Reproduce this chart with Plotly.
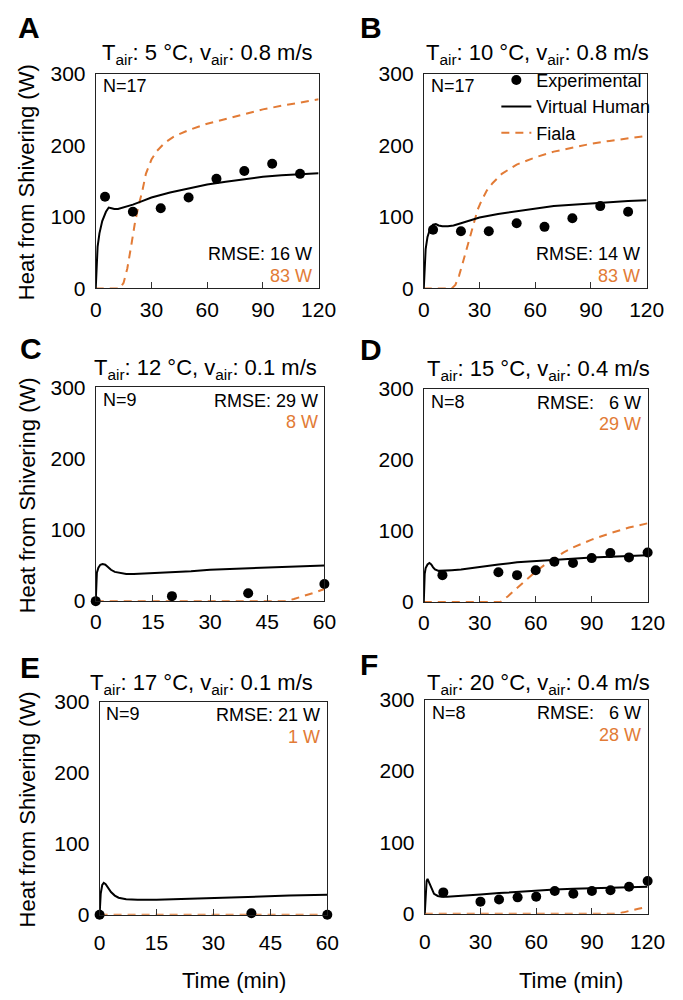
import plotly.graph_objects as go

W, H = 683, 1000
FONT = "Liberation Sans, Arial, sans-serif"
ORANGE = "#E27B36"

# ---------------- data ----------------
# Panel A: Tair 5 C, vair 0.8 m/s
a_exp_t = [5, 20, 35, 50, 65, 80, 95, 110]
a_exp_y = [128, 107, 112, 127, 153, 164, 174, 160]
a_vh_t = [0, 0.5, 1, 2, 3.5, 5.5, 7, 8.5, 10, 12, 15, 20, 25, 30, 40, 50, 60, 70, 80, 90, 100, 110, 120]
a_vh_y = [0, 40, 58, 77, 94, 107, 113, 112, 111, 111, 113, 117, 122, 127, 134, 140, 145, 149, 153, 156, 158, 160, 161]
a_fi_t = [0, 13, 15, 17, 19, 21, 23, 25, 27, 30, 33, 37, 42, 50, 60, 70, 80, 90, 100, 110, 120]
a_fi_y = [0, 0, 8, 28, 58, 90, 115, 135, 160, 180, 192, 203, 212, 221, 230, 237, 244, 250, 255, 259, 264]

# Panel B: Tair 10 C, vair 0.8 m/s
b_exp_t = [5, 20, 35, 50, 65, 80, 95, 110]
b_exp_y = [82, 80, 80, 91, 86, 98, 115, 107]
b_vh_t = [0, 0.5, 1, 2, 3.5, 5, 6.5, 8, 10, 13, 16, 20, 25, 30, 40, 50, 60, 70, 80, 90, 100, 110, 120]
b_vh_y = [0, 40, 55, 72, 84, 89, 90, 88, 87, 87, 88, 91, 95, 99, 104, 108, 112, 115, 117, 119, 120, 122, 123]
b_fi_t = [0, 15, 17, 19, 21, 23, 25, 27, 29, 31, 34, 37, 42, 50, 60, 70, 80, 90, 100, 110, 120]
b_fi_y = [0, 0, 5, 18, 36, 55, 75, 94, 110, 122, 137, 147, 160, 173, 183, 191, 197, 202, 206, 210, 213]

# Panel C: Tair 12 C, vair 0.1 m/s
c_exp_t = [0, 20, 40, 60]
c_exp_y = [0, 7, 11, 24]
c_vh_t = [0, 0.3, 0.7, 1.2, 1.8, 2.5, 3.2, 4, 5, 6.5, 8, 10, 15, 20, 25, 30, 35, 40, 45, 50, 55, 60]
c_vh_y = [0, 40, 47, 51, 52, 51, 48, 44, 41, 39, 38, 38, 39, 41, 42, 44, 45, 46, 47, 48, 49, 50]
c_fi_t = [0, 50, 52, 54, 56, 58, 60]
c_fi_y = [0, 0, 3, 6, 9, 13, 17]

# Panel D: Tair 15 C, vair 0.4 m/s
d_exp_t = [10, 40, 50, 60, 70, 80, 90, 100, 110, 120]
d_exp_y = [38, 42, 38, 45, 57, 55, 62, 69, 63, 70]
d_vh_t = [0, 0.5, 1, 2, 3, 4, 5, 6, 8, 10, 15, 20, 30, 40, 50, 60, 70, 80, 90, 100, 110, 120]
d_vh_y = [0, 40, 48, 53, 55, 53, 49, 46, 44, 44, 45, 46, 50, 53, 56, 58, 60, 62, 63, 64, 65, 66]
d_fi_t = [0, 41, 45, 50, 55, 60, 65, 70, 75, 80, 90, 100, 110, 120]
d_fi_y = [0, 0, 8, 20, 32, 43, 53, 62, 70, 77, 88, 97, 105, 111]

# Panel E: Tair 17 C, vair 0.1 m/s
e_exp_t = [0, 40, 60]
e_exp_y = [0, 2, 0]
e_vh_t = [0, 0.3, 0.7, 1.1, 1.6, 2.2, 3, 4, 5, 7, 10, 15, 20, 30, 40, 50, 60]
e_vh_y = [0, 30, 42, 45, 43, 38, 32, 27, 24, 22, 21, 21, 22, 23, 25, 27, 28]
e_fi_t = [0, 60]
e_fi_y = [0, 0]

# Panel F: Tair 20 C, vair 0.4 m/s
f_exp_t = [10, 30, 40, 50, 60, 70, 80, 90, 100, 110, 120]
f_exp_y = [30, 17, 20, 23, 24, 32, 28, 32, 33, 38, 46]
f_vh_t = [0, 0.5, 1, 1.5, 2, 3, 4, 5, 7, 9, 12, 20, 30, 40, 50, 60, 70, 80, 90, 100, 110, 120]
f_vh_y = [0, 35, 46, 49, 46, 38, 32, 28, 25, 24, 24, 25, 27, 29, 31, 33, 34, 35, 36, 37, 38, 38]
f_fi_t = [0, 103, 107, 111, 115, 120]
f_fi_y = [0, 0, 2, 5, 7, 10]

letters = ["A", "B", "C", "D", "E", "F"]
t_air = ["5", "10", "12", "15", "17", "20"]
v_air = ["0.8", "0.8", "0.1", "0.4", "0.1", "0.4"]
n_labels = ["N=17", "N=17", "N=9", "N=8", "N=9", "N=8"]
rmse_vh = ["RMSE: 16 W", "RMSE: 14 W", "RMSE: 29 W", "RMSE:   6 W", "RMSE: 21 W", "RMSE:   6 W"]
rmse_fi = ["83 W", "83 W", "8 W", "29 W", "1 W", "28 W"]
x_max = [120, 120, 60, 120, 60, 120]
x_ticks_long = [0, 30, 60, 90, 120]
x_ticks_short = [0, 15, 30, 45, 60]
y_ticks = [0, 100, 200, 300]

exp_t = [a_exp_t, b_exp_t, c_exp_t, d_exp_t, e_exp_t, f_exp_t]
exp_y = [a_exp_y, b_exp_y, c_exp_y, d_exp_y, e_exp_y, f_exp_y]
vh_t = [a_vh_t, b_vh_t, c_vh_t, d_vh_t, e_vh_t, f_vh_t]
vh_y = [a_vh_y, b_vh_y, c_vh_y, d_vh_y, e_vh_y, f_vh_y]
fi_t = [a_fi_t, b_fi_t, c_fi_t, d_fi_t, e_fi_t, f_fi_t]
fi_y = [a_fi_y, b_fi_y, c_fi_y, d_fi_y, e_fi_y, f_fi_y]

# ---------------- layout geometry (pixels) ----------------
# plot boxes: (left, right, top, bottom)
boxes = [
    (93, 324, 63, 283),
    (433, 664, 63, 283),
    (93, 330, 384, 603),
    (433, 665, 386, 604),
    (97, 333, 706, 924),
    (434, 665, 704, 923),
]
letter_pos = [(10, 16), (365, 16), (12, 344), (365, 345), (12, 671), (365, 668)]
title_pos = [(209, 43), (551, 43), (207, 365), (552, 366), (203, 688), (552, 688)]
x_standoff = [2, 2, 2, 2, 9, 9]


def px(x):
    return x / W


def py(y):
    return 1 - y / H


fig = go.Figure()
annotations = []
layout_axes = {}

for i in range(6):
    L, R, T, B = boxes[i]
    xa = "x" if i == 0 else f"x{i+1}"
    ya = "y" if i == 0 else f"y{i+1}"
    xkey = "xaxis" if i == 0 else f"xaxis{i+1}"
    ykey = "yaxis" if i == 0 else f"yaxis{i+1}"
    show = i == 1

    fig.add_trace(go.Scatter(
        x=fi_t[i], y=fi_y[i], mode="lines", name="Fiala",
        line=dict(color=ORANGE, width=2, dash="8px,6px"),
        xaxis=xa, yaxis=ya, showlegend=show, legendrank=3, cliponaxis=False))
    fig.add_trace(go.Scatter(
        x=vh_t[i], y=vh_y[i], mode="lines", name="Virtual Human",
        line=dict(color="black", width=2),
        xaxis=xa, yaxis=ya, showlegend=show, legendrank=2, cliponaxis=False))
    fig.add_trace(go.Scatter(
        x=exp_t[i], y=exp_y[i], mode="markers", name="Experimental",
        marker=dict(color="black", size=10),
        xaxis=xa, yaxis=ya, showlegend=show, legendrank=1, cliponaxis=False))

    ticks = x_ticks_long if x_max[i] == 120 else x_ticks_short
    layout_axes[xkey] = dict(
        domain=[px(L), px(R)], anchor=ya, range=[0, x_max[i]],
        tickvals=ticks, ticktext=[str(t) for t in ticks],
        ticks="inside", ticklen=6, tickcolor="#333", tickwidth=1,
        showline=True, mirror=True, linecolor="#222", linewidth=1,
        showgrid=False, zeroline=False,
        tickfont=dict(size=21, color="black", family=FONT),
        ticklabelstandoff=x_standoff[i],
    )
    layout_axes[ykey] = dict(
        domain=[py(B), py(T)], anchor=xa, range=[0, 300],
        tickvals=y_ticks, ticktext=[str(t) for t in y_ticks],
        ticks="", showline=True, mirror=True, linecolor="#222", linewidth=1,
        showgrid=False, zeroline=False,
        tickfont=dict(size=21, color="black", family=FONT),
        ticklabelstandoff=5,
    )

    # panel letter
    lx, ly = letter_pos[i]
    annotations.append(dict(
        text=f"<b>{letters[i]}</b>", x=px(lx), y=py(ly), xref="paper", yref="paper",
        xanchor="left", yanchor="middle", showarrow=False,
        font=dict(size=30, color="black", family=FONT)))
    # title
    tx, ty = title_pos[i]
    annotations.append(dict(
        text=f"T<sub>air</sub>: {t_air[i]} °C, v<sub>air</sub>: {v_air[i]} m/s",
        x=px(tx), y=py(ty), xref="paper", yref="paper",
        xanchor="center", yanchor="middle", showarrow=False,
        font=dict(size=22, color="black", family=FONT)))
    # N label
    annotations.append(dict(
        text=n_labels[i], x=px(L + 5), y=py(T + 13), xref="paper", yref="paper",
        xanchor="left", yanchor="middle", showarrow=False,
        font=dict(size=18, color="black", family=FONT)))
    # RMSE labels
    if i < 2:
        r1, r2 = B - 35, B - 13
    else:
        r1, r2 = T + 14, T + 36
    annotations.append(dict(
        text=rmse_vh[i].replace("  ", "&nbsp;&nbsp;"), x=px(R - 5), y=py(r1), xref="paper", yref="paper",
        xanchor="right", yanchor="middle", showarrow=False,
        font=dict(size=18, color="black", family=FONT)))
    annotations.append(dict(
        text=rmse_fi[i], x=px(R - 5), y=py(r2), xref="paper", yref="paper",
        xanchor="right", yanchor="middle", showarrow=False,
        font=dict(size=18, color=ORANGE, family=FONT)))
    # y-axis title on left column
    if i % 2 == 0:
        annotations.append(dict(
            text="Heat from Shivering (W)", x=px(22), y=py((T + B) / 2 + 1),
            xref="paper", yref="paper", xanchor="center", yanchor="middle",
            textangle=-90, showarrow=False,
            font=dict(size=22, color="black", family=FONT)))

# x-axis titles on bottom row
for cx in (236, 586):
    annotations.append(dict(
        text="Time (min)", x=px(cx), y=py(991), xref="paper", yref="paper",
        xanchor="center", yanchor="middle", showarrow=False,
        font=dict(size=22, color="black", family=FONT)))

fig.update_layout(
    width=W, height=H,
    margin=dict(l=0, r=0, t=0, b=0),
    paper_bgcolor="white", plot_bgcolor="white",
    font=dict(family=FONT, color="black"),
    annotations=annotations,
    showlegend=True,
    legend=dict(
        x=px(673), y=py(51), xanchor="right", yanchor="top",
        bgcolor="rgba(0,0,0,0)", borderwidth=0,
        font=dict(size=18, family=FONT, color="black"),
        tracegroupgap=0, itemwidth=30,
    ),
    **layout_axes,
)

fig.write_html("out.html")
